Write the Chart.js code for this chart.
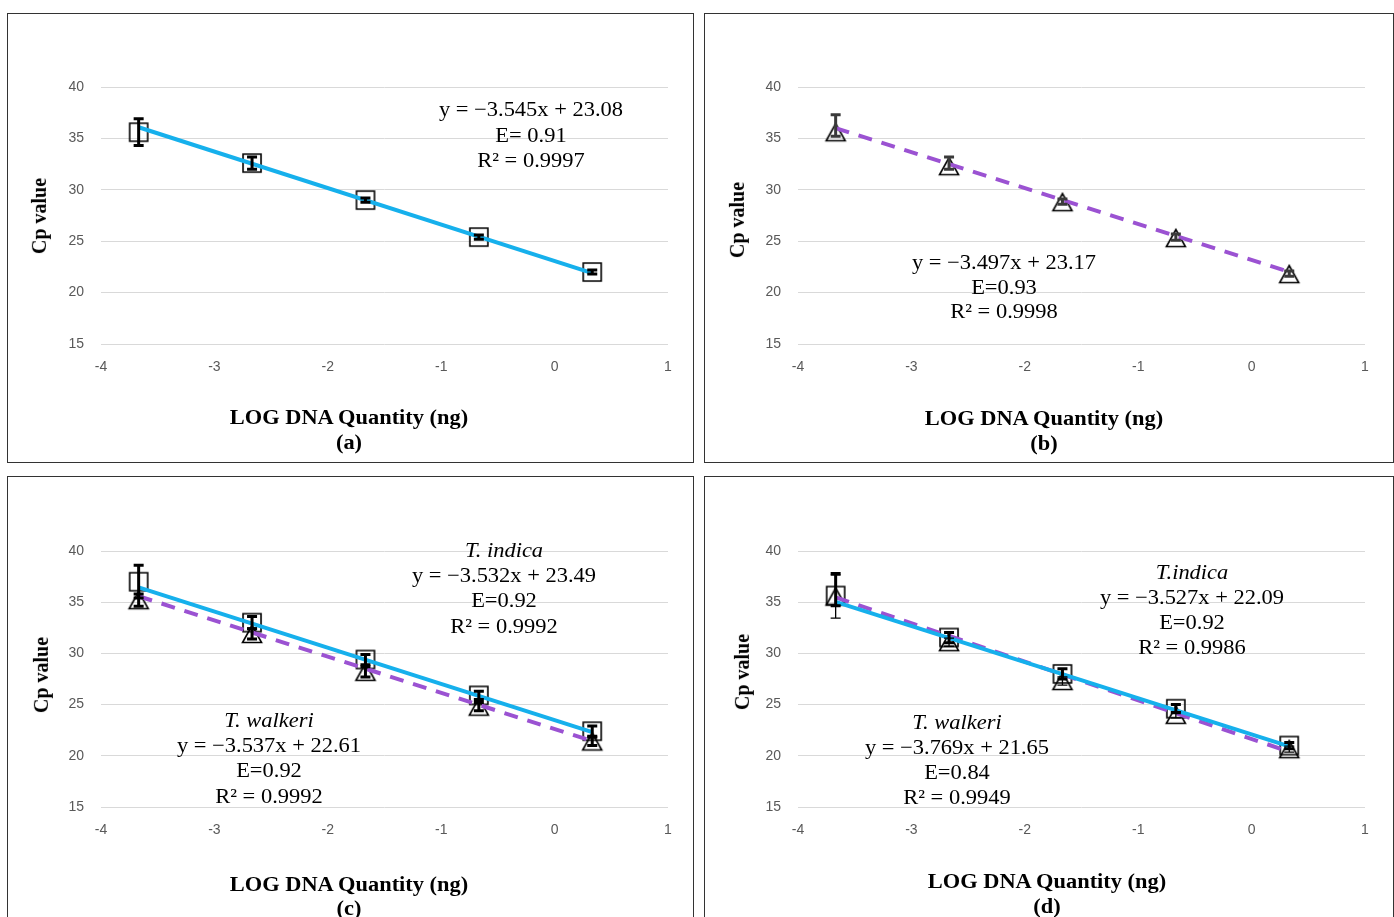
<!DOCTYPE html>
<html><head><meta charset="utf-8">
<script src="https://cdn.jsdelivr.net/npm/chart.js@4.4.1/dist/chart.umd.min.js"></script>
<style>
html,body{margin:0;padding:0;background:#fff;}
body{width:1394px;height:917px;overflow:hidden;position:relative;}
.panel{position:absolute;border:1px solid #333;box-sizing:border-box;overflow:hidden;background:#fff;}
.panel canvas{position:absolute;left:0;top:0;}
.t{position:absolute;white-space:nowrap;font-family:"Liberation Serif","Times New Roman",serif;color:#000;line-height:1;transform:translate(-50%,-50%) scaleX(1.07);z-index:5;}
.eq{font-size:21px;}
.ttl{font-size:20px;font-weight:bold;transform:translate(-50%,-50%) scaleX(1.12);}
.it{font-style:italic;}
.rot{font-size:20px;font-weight:bold;transform:translate(-50%,-50%) rotate(-90deg) scaleY(1.1);}
</style></head><body>
<script>
// ---- data ----
const xLog = [-3.668, -2.668, -1.668, -0.668, 0.332];
const xTicks = [-4, -3, -2, -1, 0, 1];
const yTicks = [15, 20, 25, 30, 35, 40];

// (a) T. indica
const cpA = [35.6, 32.6, 29.0, 25.4, 22.0];
const errA = [1.3, 0.6, 0.2, 0.2, 0.2];
// (b) T. walkeri
const cpB = [35.6, 32.3, 28.8, 25.3, 21.8];
const errBUp = [1.7, 0.9, 0.3, 0.4, 0.3];
const errBDown = [0.4, 0.3, 0.2, 0.2, 0.2];
// (c)
const cpCIndica = [37.0, 33.0, 29.4, 25.9, 22.4];
const errCIndica = [1.6, 0.6, 0.5, 0.4, 0.5];
const cpCWalkeri = [35.2, 31.9, 28.2, 24.8, 21.4];
const errCWalkeri = [0.6, 0.5, 0.5, 0.4, 0.4];
// (d)
const cpDIndica = [35.65, 31.55, 28.0, 24.6, 21.0];
const errDIndicaUp = [2.15, 0.5, 0.5, 0.4, 0.3];
const errDIndicaDown = [1.0, 0.5, 0.5, 0.4, 0.3];
const cpDWalkeri = [35.55, 31.1, 27.3, 24.0, 20.65];
const errDWalkeri = [2.1, 0.4, 0.4, 0.3, 0.3];

// trendline equations shown on the chart
const slopes = {a: -3.545, b: -3.497, cI: -3.532, cW: -3.537, dI: -3.527, dW: -3.769};
const intercepts = {a: 23.08, b: 23.17, cI: 23.49, cW: 22.61, dI: 22.09, dW: 21.65};

// ---- styling ----
const BLUE = '#16B0EC';
const PURPLE = '#9B52D2';

function makeMarker(shape) {
  const c = document.createElement('canvas');
  c.width = 24; c.height = 24;
  const g = c.getContext('2d');
  g.strokeStyle = '#000'; g.lineWidth = 1.6;
  g.beginPath();
  if (shape === 'sq') {
    g.rect(3, 3, 18, 18);
  } else {
    g.moveTo(12, 3.5); g.lineTo(21.5, 20.5); g.lineTo(2.5, 20.5); g.closePath();
  }
  g.stroke();
  return c;
}
const SQ = makeMarker('sq');
const TRI = makeMarker('tri');

const errorBars = {
  id: 'errorBars',
  afterDatasetsDraw(chart) {
    const ctx = chart.ctx, xs = chart.scales.x, ys = chart.scales.y;
    chart.data.datasets.forEach(ds => {
      if (!ds.errUp) return;
      ctx.save();
      ctx.strokeStyle = ds.errColor; ctx.lineWidth = ds.errWidth; ctx.lineCap = 'butt';
      ds.data.forEach((pt, i) => {
        const px = xs.getPixelForValue(pt.x);
        const top = ys.getPixelForValue(pt.y + ds.errUp[i]);
        const bot = ys.getPixelForValue(pt.y - ds.errDown[i]);
        const c = ds.capHalf;
        ctx.beginPath();
        ctx.moveTo(px, top); ctx.lineTo(px, bot);
        ctx.moveTo(px - c, top); ctx.lineTo(px + c, top);
        ctx.moveTo(px - c, bot); ctx.lineTo(px + c, bot);
        ctx.stroke();
      });
      ctx.restore();
    });
  }
};

function seriesDS(vals, up, down, marker, errColor, errWidth) {
  return {
    type: 'scatter',
    data: xLog.map((x, i) => ({x: x, y: vals[i]})),
    pointStyle: marker, pointRadius: 12,
    showLine: false, order: 3,
    errUp: up, errDown: down, errColor: errColor, errWidth: errWidth, capHalf: 5
  };
}
function trendDS(key, color, dash) {
  const x0 = xLog[0], x1 = xLog[xLog.length - 1];
  return {
    type: 'line',
    data: [{x: x0, y: slopes[key] * x0 + intercepts[key]}, {x: x1, y: slopes[key] * x1 + intercepts[key]}],
    borderColor: color, borderWidth: 4, borderDash: dash, borderCapStyle: 'butt',
    pointRadius: 0, fill: false, tension: 0, order: 1
  };
}

const panels = [
  {left: 7, top: 13, width: 687, height: 450, plot: {L: 101, R: 668, T: 87, B: 344},
   datasets: [seriesDS(cpA, errA, errA, SQ, '#000', 3), trendDS('a', BLUE, [])]},
  {left: 704, top: 13, width: 690, height: 450, plot: {L: 798, R: 1365, T: 87, B: 344},
   datasets: [seriesDS(cpB, errBUp, errBDown, TRI, '#3a3a3a', 3), trendDS('b', PURPLE, [14, 10])]},
  {left: 7, top: 476, width: 687, height: 450, plot: {L: 101, R: 668, T: 551, B: 807},
   datasets: [seriesDS(cpCIndica, errCIndica, errCIndica, SQ, '#000', 3),
              seriesDS(cpCWalkeri, errCWalkeri, errCWalkeri, TRI, '#000', 3),
              trendDS('cI', BLUE, []), trendDS('cW', PURPLE, [14, 10])]},
  {left: 704, top: 476, width: 690, height: 450, plot: {L: 798, R: 1365, T: 551, B: 807},
   datasets: [seriesDS(cpDIndica, errDIndicaUp, errDIndicaDown, SQ, '#000', 3),
              seriesDS(cpDWalkeri, errDWalkeri, errDWalkeri, TRI, '#000', 1.3),
              trendDS('dW', PURPLE, [14, 10]), trendDS('dI', BLUE, [])]}
];
// blue drawn above purple in (d)
panels[3].datasets[2].order = 2;

panels.forEach(p => {
  const div = document.createElement('div');
  div.className = 'panel';
  Object.assign(div.style, {left: p.left + 'px', top: p.top + 'px', width: p.width + 'px', height: p.height + 'px'});
  const cw = p.width - 2, ch = p.height - 2;
  const ox = p.left + 1, oy = p.top + 1;
  const L = p.plot.L - ox, R = p.plot.R - ox, T = p.plot.T - oy, B = p.plot.B - oy;
  const cv = document.createElement('canvas');
  cv.width = cw; cv.height = ch;
  cv.style.width = cw + 'px'; cv.style.height = ch + 'px';
  div.appendChild(cv);
  document.body.appendChild(div);
  const tickFont = {family: '"Liberation Sans", Arial, sans-serif', size: 14};
  new Chart(cv, {
    type: 'scatter',
    data: {datasets: p.datasets},
    options: {
      responsive: false, animation: false, devicePixelRatio: 1,
      layout: {padding: {left: 0, top: T, right: cw - R, bottom: 0}},
      plugins: {legend: {display: false}, tooltip: {enabled: false}},
      scales: {
        x: {
          type: 'linear', min: -4, max: 1,
          afterBuildTicks: s => { s.ticks = xTicks.map(v => ({value: v})); },
          afterFit: s => { s.height = ch - B; },
          grid: {display: false, drawTicks: false},
          border: {display: false},
          ticks: {color: '#595959', font: tickFont, padding: 15, maxRotation: 0}
        },
        y: {
          type: 'linear', min: 15, max: 40,
          afterBuildTicks: s => { s.ticks = yTicks.map(v => ({value: v})); },
          afterFit: s => { s.width = L; },
          grid: {color: '#d9d9d9', lineWidth: 1, drawTicks: false},
          border: {display: false},
          ticks: {color: '#595959', font: tickFont, padding: 17}
        }
      }
    },
    plugins: [errorBars]
  });
});

// ---- text ----
function addText(str, x, y, cls) {
  const d = document.createElement('div');
  d.className = 't ' + cls;
  d.textContent = str;
  d.style.left = x + 'px'; d.style.top = y + 'px';
  document.body.appendChild(d);
}
const texts = [
  ['y = −3.545x + 23.08', 531, 109, 'eq'], ['E= 0.91', 531, 135, 'eq'], ['R² = 0.9997', 531, 160, 'eq'],
  ['y = −3.497x + 23.17', 1004, 262, 'eq'], ['E=0.93', 1004, 287, 'eq'], ['R² = 0.9998', 1004, 311, 'eq'],
  ['T. indica', 504, 550, 'eq it'], ['y = −3.532x + 23.49', 504, 575, 'eq'], ['E=0.92', 504, 600, 'eq'], ['R² = 0.9992', 504, 626, 'eq'],
  ['T. walkeri', 269, 720, 'eq it'], ['y = −3.537x + 22.61', 269, 745, 'eq'], ['E=0.92', 269, 770, 'eq'], ['R² = 0.9992', 269, 796, 'eq'],
  ['T.indica', 1192, 572, 'eq it'], ['y = −3.527x + 22.09', 1192, 597, 'eq'], ['E=0.92', 1192, 622, 'eq'], ['R² = 0.9986', 1192, 647, 'eq'],
  ['T. walkeri', 957, 722, 'eq it'], ['y = −3.769x + 21.65', 957, 747, 'eq'], ['E=0.84', 957, 772, 'eq'], ['R² = 0.9949', 957, 797, 'eq'],
  ['Cp value', 38, 216, 'rot'], ['LOG DNA Quantity (ng)', 349, 417, 'ttl'], ['(a)', 349, 442, 'ttl'],
  ['Cp value', 736, 220, 'rot'], ['LOG DNA Quantity (ng)', 1044, 418, 'ttl'], ['(b)', 1044, 443, 'ttl'],
  ['Cp value', 40, 675, 'rot'], ['LOG DNA Quantity (ng)', 349, 884, 'ttl'], ['(c)', 349, 908, 'ttl'],
  ['Cp value', 741, 672, 'rot'], ['LOG DNA Quantity (ng)', 1047, 881, 'ttl'], ['(d)', 1047, 906, 'ttl']
];
texts.forEach(t => addText(t[0], t[1], t[2], t[3]));
</script>
</body></html>
